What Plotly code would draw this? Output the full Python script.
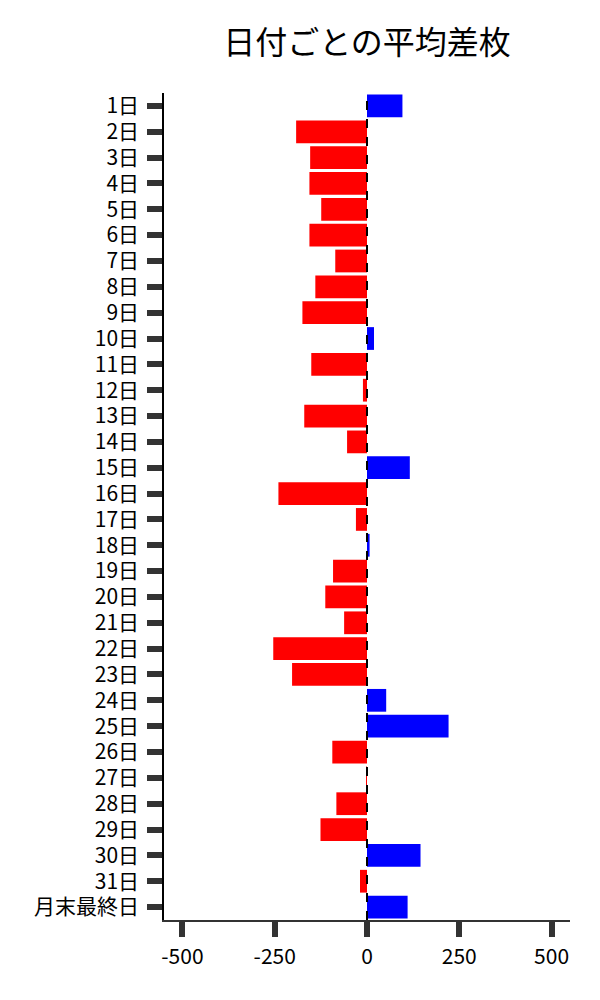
import plotly.graph_objects as go

categories = [f"{i}日" for i in range(1, 32)] + ["月末最終日"]
values = [96, -192, -154, -156, -124, -156, -86, -140, -175, 19,
          -151, -11, -170, -54, 116, -240, -30, 7, -92, -113,
          -62, -254, -203, 52, 221, -94, -1, -83, -126, 145,
          -19, 110]
pos_color = "#0000FF"
neg_color = "#FF0000"
colors = [pos_color if v >= 0 else neg_color for v in values]
x_ticks = [-500, -250, 0, 250, 500]
title = "日付ごとの平均差枚"

font_family = "Noto Sans CJK JP, Noto Sans, sans-serif"

# page body has an 8px default margin; compensate so plot lands where the reference has it
W, H = 592, 992

fig = go.Figure(go.Bar(
    x=values, y=categories, orientation="h",
    marker=dict(color=colors, line=dict(width=0)),
    hoverinfo="x+y",
))

fig.add_shape(type="line", x0=0, x1=0, y0=0, y1=1, xref="x", yref="paper",
              line=dict(color="black", width=2, dash="dash"), layer="above")

fig.update_layout(
    width=W, height=H,
    margin=dict(l=156, r=30, t=85, b=80),
    paper_bgcolor="white", plot_bgcolor="white",
    bargap=0.12,
    showlegend=False,
    font=dict(family=font_family, size=21, color="black"),
    title=dict(text=title, x=0.5, xref="paper", xanchor="center",
               y=1 - 35 / H, yanchor="middle",
               font=dict(family=font_family, size=32, color="black")),
)
fig.update_xaxes(
    range=[-550, 550], tickvals=x_ticks, ticktext=[str(t) for t in x_ticks],
    showgrid=False, zeroline=False,
    showline=True, linecolor="#333333", linewidth=1.5,
    ticks="outside", ticklen=15, tickwidth=6, tickcolor="#333333",
    tickfont=dict(size=21, color="black"), ticklabelstandoff=2,
)
fig.update_yaxes(
    type="category", categoryorder="array", categoryarray=categories,
    autorange="reversed",
    showgrid=False, zeroline=False,
    showline=True, linecolor="black", linewidth=1.5,
    ticks="outside", ticklen=15, tickwidth=6, tickcolor="#333333",
    tickfont=dict(size=21, color="black"), ticklabelstandoff=4,
)

fig.write_html("out.html")
